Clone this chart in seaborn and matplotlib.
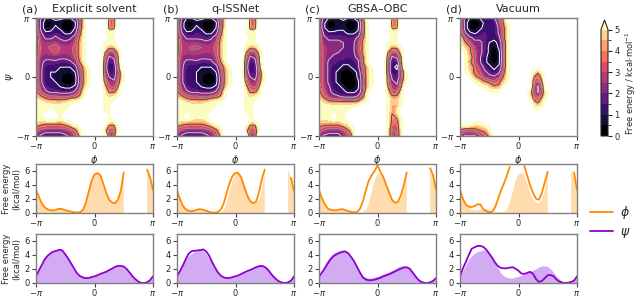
import numpy as np
import pandas as pd
import matplotlib
matplotlib.use('Agg')
import matplotlib.pyplot as plt
import seaborn as sns
from matplotlib.colors import ListedColormap, BoundaryNorm, Normalize
from matplotlib.cm import ScalarMappable
from matplotlib.lines import Line2D

nan = np.nan

titles = ['Explicit solvent', 'q-ISSNet', 'GBSA\u2013OBC', 'Vacuum']
letters = ['(a)', '(b)', '(c)', '(d)']

# 2D free energy, 25x25 grid, first row psi=pi, last psi=-pi,
# columns phi=-pi..pi.  one char per cell: index in CODE times 0.2 kcal/mol,
# '.' = no sampling (white)
CODE = '0123456789ABCDEFGHIJKLMNOPQRST'
fes_explicit = [
    "IA5566558GQ....IG........",
    "J91143004FR....GF.......S",
    "J91364005GR....HH.......S",
    "KB6687448IS...SSS........",
    "ND99B989DLS....SS........",
    "MDDDECBCFMS...SSS........",
    "MFEGIFEEGMS...SMMS.......",
    "MEDEGEDEGMS...MDFN.......",
    "LCBBCBBCFMS...J9BL.......",
    "KB999889CKS...G68L.......",
    "KB7665558GNS..F56J.......",
    "KB6554335ENS..F76HS......",
    "KB6553103DNS..HA8HS......",
    "KB6653113DNS..KDBJS......",
    "LD8765446EOS..NGEL.......",
    "LFB99888BIS...SJJO.......",
    "NLIGGFFGILS...SOSS.......",
    "SSONNNOSSS....SSS........",
    "SSSSSSSS......SS.........",
    "SSS.SSS.......SS.........",
    "SS...S.........S.........",
    "SONNNNOS.......OO........",
    "LJIIIIJLOS....SJJS.......",
    "GDBBBBCEIO....OEGS.......",
    "D988889BFL.....DD........",
]
fes_qissnet = [
    "IA5566558GQ....IG........",
    "J81143004FR....GF.......S",
    "J81364005GR....HH.......S",
    "KA6687448IS...SSS........",
    "ND999989DLS....SS........",
    "MDDDDCBCFMS...SSS........",
    "MFEGGFEEGMS...SMMS.......",
    "MEDEEDDCGMS...MDFN.......",
    "LCBBCBBBFMS...J9BL.......",
    "KB999889CKS...G68L.......",
    "KB7665558GNS..F56J.......",
    "KB6654335ENS..F76HS......",
    "KB6653103DNS..HA8HS......",
    "KB6653113DNS..KDBJS......",
    "LD8765446EOS..NGEL.......",
    "LFB99888BIS...SJJO.......",
    "NLIGGFFGILS...SOSS.......",
    "SSONNNOSSS....SSS........",
    "SSSSSSSSS.....SS.........",
    "SSSSSSSS......SLS........",
    "SS.SSSS........S.........",
    "SONNNNOS.......OO........",
    "LJIIIIJLOS....SJJS.......",
    "GDBBBBCEIO....OEGS.......",
    "D988889BFL.....DD........",
]
fes_gbsa = [
    "G95456557G.....JJ........",
    "G61144104GS....GG.......S",
    "G61244114GS....JJ.......S",
    "J96666446GS...SSS........",
    "JB999988BJS....SS........",
    "JBBBBA99ELS...SSS........",
    "JECBBA99ELS...SLLS.......",
    "JEBBA999ELS...LEGO.......",
    "JEB99979BJS...J9BL.......",
    "JE9976669JS...G66L.......",
    "JE9664469GOS..G64J.......",
    "JE9641136GOS..G66GS......",
    "JE9641016EOS..J96GS......",
    "JE9641014EOS..JB9JS......",
    "LEB664114EOS..LEBL.......",
    "LGB966446ES...OGGO.......",
    "OJEBB999BJS...SLLS.......",
    "SOLLKKKKLOS...SOOS.......",
    "SSSSSSSSS.....SLLS.......",
    "SSSSSSS.......SLO........",
    "SSS.SS........SJLS.......",
    "OOOOOSS.......SJJS.......",
    "LJJJJLOS......SGGS.......",
    "GEBBBEJO......SEGS.......",
    "E9999BGL......SEES.......",
]
fes_vacuum = [
    "G9545669GL...............",
    "J9101666ELS.............S",
    "J9114666BJS.............S",
    "LB646966BJS..............",
    "SGB999669JS..............",
    "SLGBB9546GS..............",
    "SOLEB9416GS..............",
    ".SLGB9404GS..............",
    ".SOGB6404GS..............",
    ".SLGB6414GS..............",
    ".SOJE9646GS.....S........",
    ".SOJGB969JS....OLS.......",
    "..SLJEBBELS....LGO.......",
    "...SOLJGJOS....JEL.......",
    "....SSOLLS.....G9J.......",
    "......SSS.....SG9JS......",
    "..............SJELS......",
    "...............LJO.......",
    "...............SOS.......",
    "................S........",
    ".........................",
    "...SS....................",
    "OOOOOOS..................",
    "JGGGJLO..................",
    "E999EGLS.................",
]

# 1D profiles along the angle, 41 points from -pi to pi (kcal/mol)
ref_phi = [3.3, 2.3, 1.35, 0.8, 0.5, 0.4, 0.35, 0.5, 0.6, 0.55, 0.4, 0.3, 0.2, 0.1,
           0.08, 0.1, 0.4, 1.4, 3.0, 4.6, 5.5, 5.7, 5.4, 4.2, 2.9, 1.9, 1.5, 1.4,
           1.9, 3.2, 5.8, nan, nan, nan, nan, nan, nan, nan, 6.2, 5.1, 3.3]
ref_psi = [0.95, 1.8, 2.6, 3.4, 3.9, 4.25, 4.5, 4.6, 4.75, 4.65, 4.1, 3.5, 2.8, 2.1,
           1.4, 1.0, 0.8, 0.7, 0.72, 0.85, 0.95, 1.1, 1.3, 1.45, 1.6, 1.85, 2.05,
           2.3, 2.45, 2.45, 2.35, 2.0, 1.5, 0.95, 0.55, 0.2, 0.02, 0.0, 0.1, 0.4, 0.95]
qissnet_phi = [3.2, 2.0, 1.0, 0.5, 0.3, 0.25, 0.35, 0.5, 0.55, 0.45, 0.3, 0.15, 0.05,
               0.05, 0.15, 0.5, 1.4, 2.9, 4.3, 5.3, 5.75, 5.7, 5.0, 3.7, 2.5, 1.7, 1.4,
               1.6, 2.9, 4.8, 6.2, nan, nan, nan, nan, nan, nan, nan, nan, 5.0, 3.1]
qissnet_psi = [0.95, 1.7, 2.5, 3.4, 4.2, 4.55, 4.6, 4.65, 4.7, 4.8, 4.5, 3.9, 3.0, 2.2,
               1.5, 1.05, 0.8, 0.7, 0.72, 0.85, 0.95, 1.1, 1.3, 1.5, 1.7, 1.85, 2.05,
               2.25, 2.4, 2.45, 2.3, 1.95, 1.4, 0.9, 0.5, 0.2, 0.05, 0.0, 0.1, 0.35, 0.95]
gbsa_phi = [3.3, 2.1, 1.25, 0.65, 0.45, 0.4, 0.38, 0.5, 0.55, 0.4, 0.25, 0.15, 0.08,
            0.15, 0.6, 1.7, 3.2, 4.6, 5.4, 6.0, 6.8, 5.9, 5.1, 4.0, 2.9, 1.85, 1.45,
            1.6, 2.5, 4.0, 5.8, nan, nan, nan, nan, nan, nan, nan, 6.4, 5.4, 3.3]
gbsa_psi = [0.9, 1.5, 2.1, 2.8, 3.4, 3.85, 4.1, 4.3, 4.45, 4.5, 4.25, 3.7, 3.1, 2.3,
            1.5, 0.8, 0.5, 0.38, 0.4, 0.47, 0.6, 0.75, 0.95, 1.1, 1.25, 1.45, 1.65,
            1.85, 2.05, 2.2, 2.25, 2.05, 1.5, 0.95, 0.45, 0.15, 0.02, 0.0, 0.1, 0.3, 0.7]
vacuum_phi = [3.3, 2.0, 1.2, 0.9, 0.85, 1.0, 1.25, 1.2, 0.5, 0.25, 0.1, 0.2, 0.8, 2.0,
              3.2, 4.2, 5.3, 6.6, nan, nan, nan, nan, 6.7, 5.3, 3.9, 2.8, 2.05, 1.9,
              2.9, 4.4, 5.9, nan, nan, nan, nan, nan, nan, nan, nan, 5.8, 3.3]
vacuum_psi = [0.95, 2.1, 3.0, 4.0, 4.9, 5.1, 5.3, 5.3, 5.15, 4.75, 4.2, 3.6, 2.9, 2.4,
              2.15, 2.1, 2.1, 2.2, 2.25, 2.05, 1.75, 1.35, 1.3, 1.45, 1.6, 1.3, 0.55,
              0.15, 0.3, 0.7, 1.1, 1.15, 0.95, 0.5, 0.2, 0.05, 0.0, 0.05, 0.15, 0.35, 0.95]

fes_maps = [fes_explicit, fes_qissnet, fes_gbsa, fes_vacuum]
phi_lines = [ref_phi, qissnet_phi, gbsa_phi, vacuum_phi]
psi_lines = [ref_psi, qissnet_psi, gbsa_psi, vacuum_psi]

orange = '#ff8a00'
orange_fill = '#fedcae'
purple = '#8e00d2'
purple_fill = '#d3abf2'

sns.set_style('ticks')
plt.rcParams['font.family'] = ['DejaVu Sans']
plt.rcParams['mathtext.fontset'] = 'dejavusans'


def decode(rows):
    z = np.array([[9.0 if c == '.' else 0.2 * CODE.index(c) for c in r] for r in rows])
    return z[::-1]


grid = np.linspace(-np.pi, np.pi, 25)
step = grid[1] - grid[0]
ang = np.linspace(-np.pi, np.pi, 41)

magma = plt.get_cmap('magma')
band_colors = [magma(v) for v in np.linspace(0, 1, 11)]
line_cols = ['white', '#c9c9c9', '#8e8e8e', '#505050']

# stepped map: 0.5 kcal/mol bands, everything 5..6.5 in the "over" colour
map_cmap = ListedColormap(band_colors[:10] + [band_colors[10]] * 3)
map_cmap.set_over((1, 1, 1, 0))
map_cmap.set_under(band_colors[0])
map_norm = Normalize(vmin=0, vmax=6.5)

pi_ticks = [-np.pi, 0, np.pi]
pi_labels = [r'$-\pi$', '0', r'$\pi$']
spine_col = '#808080'

fig = plt.figure(figsize=(6.4, 2.98), dpi=100)
lefts = [36, 177, 319, 460]
W, H = 640, 298


def style(ax):
    for s in ax.spines.values():
        s.set_color(spine_col)
        s.set_linewidth(1.0)
    ax.tick_params(labelsize=6, length=3, width=0.8, pad=1.5, color='#444444')


def draw_profile(ax, y, color):
    df = pd.DataFrame({'x': ang, 'y': y})
    df['seg'] = df['y'].isna().cumsum()
    df = df.dropna()
    sns.lineplot(data=df, x='x', y='y', units='seg', estimator=None,
                 color=color, lw=1.3, ax=ax, legend=False)


for i in range(4):
    x0 = lefts[i] / W
    w = 117 / W
    ax = fig.add_axes([x0, 1 - 136 / H, w, 118 / H])
    z = decode(fes_maps[i])
    ext = [-np.pi - step / 2, np.pi + step / 2, -np.pi - step / 2, np.pi + step / 2]
    ax.imshow(z, origin='lower', extent=ext, cmap=map_cmap, norm=map_norm,
              interpolation='bicubic', interpolation_stage='data', aspect='auto')
    ax.contour(grid, grid, z, levels=[1, 2, 3, 4], colors=line_cols, linewidths=0.7)
    ax.set_xlim(-np.pi, np.pi)
    ax.set_ylim(-np.pi, np.pi)
    ax.set_xticks(pi_ticks, pi_labels)
    ax.set_yticks(pi_ticks, pi_labels)
    ax.set_xlabel(r'$\phi$', fontsize=7, labelpad=1)
    if i == 0:
        ax.set_ylabel(r'$\psi$', fontsize=7, labelpad=0)
    ax.set_title(titles[i], fontsize=8, pad=4)
    ax.set_title(letters[i], fontsize=8, pad=4, loc='left', x=-0.12)
    style(ax)

    for row, (lines, col, fcol) in enumerate([(phi_lines, orange, orange_fill),
                                              (psi_lines, purple, purple_fill)]):
        top = 164 if row == 0 else 234
        ax1 = fig.add_axes([x0, 1 - (top + 49) / H, w, 49 / H])
        ref = ref_phi if row == 0 else ref_psi
        ax1.fill_between(ang, 0, np.array(ref, dtype=float), color=fcol, lw=0)
        draw_profile(ax1, lines[i], col)
        ax1.set_xlim(-np.pi, np.pi)
        ax1.set_ylim(0, 7)
        ax1.set_xticks(pi_ticks, pi_labels)
        ax1.set_yticks([0, 2, 4, 6])
        ax1.set_xlabel('')
        if i == 0:
            ax1.set_ylabel('Free energy\n(kcal/mol)', fontsize=6, labelpad=2)
        else:
            ax1.set_ylabel('')
        style(ax1)

# colorbar
cax = fig.add_axes([601 / W, 1 - 136 / H, 7 / W, 116 / H])
cmap = ListedColormap(band_colors[:10])
cmap.set_over(band_colors[10])
norm = BoundaryNorm(np.arange(0, 5.01, 0.5), 10)
cb = fig.colorbar(ScalarMappable(norm=norm, cmap=cmap), cax=cax, extend='max',
                  extendfrac=0.09, ticks=range(6))
cb.ax.tick_params(labelsize=6, length=3, width=0.8, pad=1.5)
cb.outline.set_linewidth(0.8)
cb.set_label('Free energy / kcal$\\cdot$mol$^{-1}$', fontsize=6, labelpad=3)

handles = [Line2D([], [], color=orange, lw=1.3, label=r'$\phi$'),
           Line2D([], [], color=purple, lw=1.3, label=r'$\psi$')]
fig.legend(handles=handles, loc='center left', bbox_to_anchor=(0.905, 0.255),
           frameon=False, fontsize=9, handlelength=1.8, labelspacing=0.3,
           handletextpad=0.6)

fig.savefig('out.png', dpi=100)
